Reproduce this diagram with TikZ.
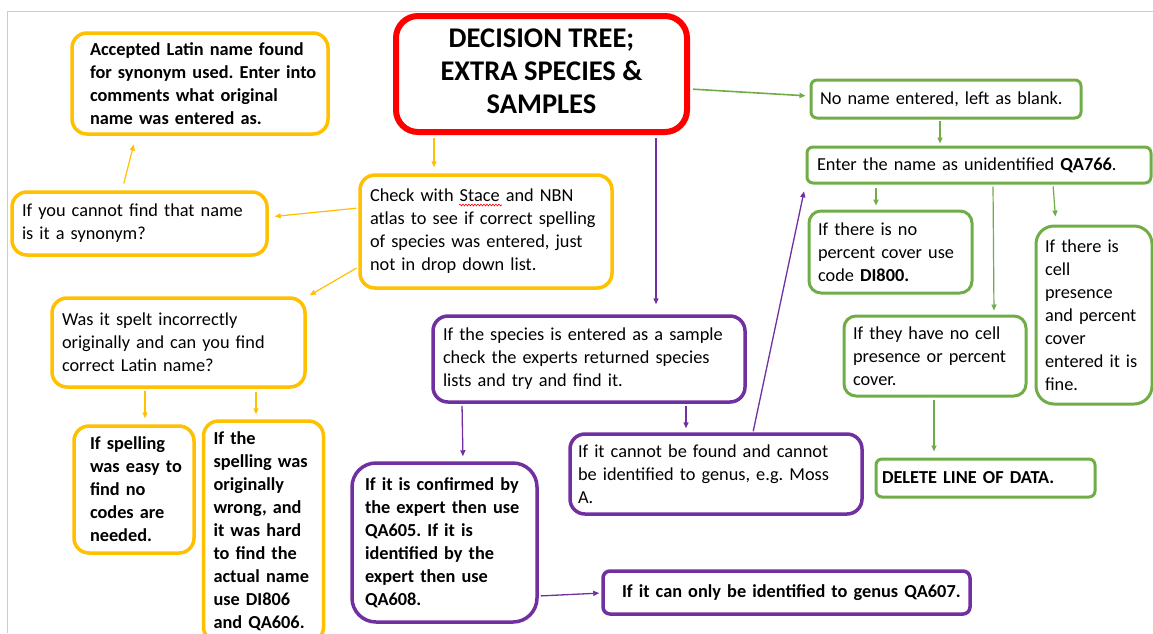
\documentclass[tikz,border=0pt]{standalone}
\usepackage{fontspec}
\setmainfont{Carlito}
\frenchspacing
\usetikzlibrary{arrows.meta,decorations.pathmorphing}
\definecolor{cOr}{HTML}{FFC000}
\definecolor{cPu}{HTML}{7030A0}
\definecolor{cGr}{HTML}{70AD47}
\definecolor{cRe}{HTML}{FF0000}
\newcommand\ml[1]{\mbox{#1}}
\tikzset{
  box/.style={draw, fill=white, align=left, font=\fontsize{18.3}{23}\selectfont, inner ysep=0pt},
  obox/.style={box, draw=cOr, line width=3.5pt, rounded corners=15pt},
  pbox/.style={box, draw=cPu, line width=3.5pt, rounded corners=15pt},
  gbox/.style={box, draw=cGr, line width=3pt, rounded corners=12pt},
  bld/.style={font=\fontsize{18.3}{23}\selectfont\bfseries},
  tip/.style={-{Triangle[length=6pt,width=5pt]}},
  oarr/.style={draw=cOr, line width=1.2pt, tip},
  parr/.style={draw=cPu, line width=1.3pt, tip},
  garr/.style={draw=cGr, line width=1.6pt, tip},
}
\begin{document}
\begin{tikzpicture}[x=1pt,y=-1pt]
\useasboundingbox (0,0) rectangle (1153,633);
\fill[white] (0,0) rectangle (1153,633);
\draw[black!20, line width=1pt] (7,633) -- (7,11) -- (1153,11);

% title
\node[draw=cRe, fill=white, line width=6pt, rounded corners=22pt, minimum width=291pt, minimum height=116pt,
      inner sep=0pt, font=\fontsize{28.5}{33}\selectfont\bfseries] (title) at (541.5,74)
  {\raisebox{4pt}{\begin{tabular}{@{}c@{}}DECISION TREE;\\EXTRA SPECIES \&\\SAMPLES\end{tabular}}};

% orange
\node[obox, bld, text width=220pt, inner xsep=18pt, minimum height=101pt] (acc) at (200,83.5)
  {\ml{Accepted Latin name found}\\\ml{for synonym used. Enter into}\\\ml{comments what original}\\\ml{name was entered as.}};
\node[obox, text width=235pt, inner xsep=10pt, minimum height=63pt] (find) at (139.5,223.5)
  {\ml{If you cannot find that name}\\\ml{is it a synonym?}};
\node[obox, text width=232pt, inner xsep=10pt, minimum height=113pt] (check) at (486,231.5)
  {\ml{Check with Stace and NBN}\\\ml{atlas to see if correct spelling}\\\ml{of species was entered, just}\\\ml{not in drop down list.}};
\node[obox, text width=233pt, inner xsep=10pt, minimum height=89pt] (spelt) at (178.5,342.5)
  {\ml{Was it spelt incorrectly}\\\ml{originally and can you find}\\\ml{correct Latin name?}};
\node[obox, bld, text width=88pt, inner xsep=16pt, minimum height=127pt] (easy) at (134,489.5)
  {\ml{If spelling}\\\ml{was easy to}\\\ml{find no}\\\ml{codes are}\\\ml{needed.}};
\node[obox, bld, text width=100pt, inner xsep=10pt, minimum height=221pt] (hard) at (263.5,531.5)
  {\ml{If the}\\\ml{spelling was}\\\ml{originally}\\\ml{wrong, and}\\\ml{it was hard}\\\ml{to find the}\\\ml{actual name}\\\ml{use DI806}\\\ml{and QA606.}};

% purple
\node[pbox, text width=292pt, inner xsep=10pt, minimum height=86pt] (sample) at (589,359)
  {\ml{If the species is entered as a sample}\\\ml{check the experts returned species}\\\ml{lists and try and find it.}};
\node[pbox, bld, rounded corners=24pt, text width=159pt, inner xsep=13pt, minimum height=159pt] (conf) at (444.5,542.5)
  {\ml{If it is confirmed by}\\\ml{the expert then use}\\\ml{QA605. If it is}\\\ml{identified by the}\\\ml{expert then use}\\\ml{QA608.}};
\node[pbox, text width=276pt, inner xsep=8pt, minimum height=80pt] (cannot) at (716,474)
  {\ml{If it cannot be found and cannot}\\\ml{be identified to genus, e.g. Moss}\\\ml{A.}};
\node[pbox, bld, rounded corners=7pt, text width=329pt, inner xsep=19pt, minimum height=43pt] (genus) at (786.5,592.5)
  {\ml{If it can only be identified to genus QA607.}};

% green
\node[gbox, rounded corners=6pt, text width=252pt, inner xsep=9pt, minimum height=38pt] (noname) at (946,99)
  {\ml{No name entered, left as blank.}};
\node[gbox, rounded corners=6pt, text width=324pt, inner xsep=10pt, minimum height=36pt] (enter) at (979,165)
  {\ml{Enter the name as unidentified \textbf{QA766}.}};
\node[gbox, text width=145pt, inner xsep=9pt, minimum height=82pt] (nopc) at (890.5,252)
  {\ml{If there is no}\\\ml{percent cover use}\\\ml{code \textbf{DI800.}}};
\node[gbox, text width=164pt, inner xsep=9pt, minimum height=80pt] (nocell) at (935,356)
  {\ml{If they have no cell}\\\ml{presence or percent}\\\ml{cover.}};
\node[gbox, rounded corners=18pt, text width=98pt, inner xsep=9pt, minimum height=178pt] (fine) at (1094,315)
  {\ml{If there is}\\\ml{cell}\\\ml{presence}\\\ml{and percent}\\\ml{cover}\\\ml{entered it is}\\\ml{fine.}};
\node[gbox, bld, rounded corners=6pt, text width=207pt, inner xsep=6pt, minimum height=38pt] (delete) at (985.5,478)
  {\ml{DELETE LINE OF DATA.}};

% spelling underline
\draw[cRe, line width=0.6pt, decorate, decoration={snake, amplitude=0.9pt, segment length=3pt}]
  (459,205) -- (502,205);

% connectors
\draw[oarr, shorten <=3pt, shorten >=6pt] (title.south -| 434,0) -- (check.north -| 434,0);
\draw[oarr, shorten <=2pt, shorten >=6pt] (check.west |- 0,208) -- (find.east |- 0,217);
\draw[oarr, shorten <=7pt, shorten >=9pt] (find.north -| 122,0) -- (acc.south -| 136,0);
\draw[oarr, shorten <=2pt, shorten >=2pt] (check.west |- 0,267) -- (spelt.north -| 308,0);
\draw[oarr, shorten <=2pt, shorten >=6pt] (spelt.south -| 145,0) -- (easy.north -| 145,0);
\draw[oarr, shorten <=3pt, shorten >=5pt] (spelt.south -| 256,0) -- (hard.north -| 256,0);

\draw[parr, shorten <=3pt, shorten >=10pt] (title.south -| 656,0) -- (sample.north -| 656,0);
\draw[parr, shorten <=2pt, shorten >=5pt] (sample.south -| 462,0) -- (conf.north -| 463,0);
\draw[parr, shorten <=2pt, shorten >=4pt] (sample.south -| 686,0) -- (cannot.north -| 686,0);
\draw[parr, shorten <=1pt, shorten >=7pt] (cannot.north -| 753,0) -- (enter.south west);
\draw[parr, shorten <=2pt, shorten >=2pt] (conf.east |- 0,596) -- (genus.west |- 0,593);

\draw[garr, shorten <=3pt, shorten >=4pt] (title.east |- 0,89) -- (noname.west |- 0,96);
\draw[garr, shorten <=1pt, shorten >=2pt] (noname.south -| 940,0) -- (enter.north -| 940,0);
\draw[garr, shorten <=3pt, shorten >=4pt] (enter.south -| 876,0) -- (nopc.north -| 876,0);
\draw[garr, line width=1.2pt, shorten <=2pt, shorten >=4pt] (enter.south -| 993,0) -- (nocell.north -| 994,0);
\draw[garr, line width=1.2pt, shorten <=2pt, shorten >=8pt] (enter.south -| 1053,0) -- (fine.north -| 1056,0);
\draw[garr, shorten <=2pt, shorten >=6pt] (nocell.south -| 934,0) -- (delete.north -| 934,0);
\end{tikzpicture}
\end{document}
